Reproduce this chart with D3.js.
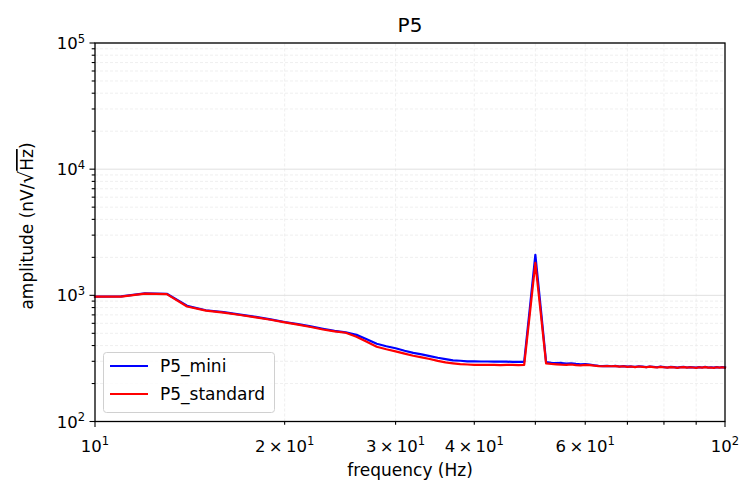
<!DOCTYPE html>
<html>
<head>
<meta charset="utf-8">
<script src="https://cdn.jsdelivr.net/npm/d3@7/dist/d3.min.js"></script>
<style>
  html, body { margin: 0; padding: 0; background: #fff; }
  svg { display: block; }
  text { font-family: "DejaVu Sans", sans-serif; fill: #000; }
</style>
</head>
<body>
<svg id="chart" width="742" height="484"></svg>
<script>
// Frequency bins (Hz), 1 Hz spacing
const freqs = d3.range(10, 101);

// Amplitude spectra (nV/sqrt(Hz)) for the two recordings
const p5Mini = [
  978, 982, 1037, 1028, 826, 762, 736, 703, 674, 645,
  615, 592, 567, 543, 522, 509, 486, 448, 413, 395,
  381, 364, 350, 340, 330, 320, 312, 305, 303, 300,
  300, 299, 299, 298, 298, 298, 297, 297, 297, 790,
  2095, 787, 296, 292, 290, 291, 288, 289, 286, 284,
  285, 282, 279, 276, 275, 276, 274, 276, 273, 275,
  272, 273, 271, 274, 272, 270, 273, 271, 269, 272,
  270, 268, 271, 270, 267, 270, 271, 268, 270, 269,
  267, 270, 268, 271, 268, 269, 267, 270, 268, 270,
  268
];
const p5Standard = [
  975, 978, 1030, 1022, 815, 756, 730, 698, 668, 640,
  610, 586, 561, 536, 518, 505, 469, 428, 391, 374,
  360, 345, 332, 322, 313, 302, 294, 289, 285, 283,
  281, 281, 281, 281, 280, 281, 281, 280, 281, 713,
  1811, 723, 289, 286, 284, 282, 281, 283, 280, 279,
  281, 280, 277, 275, 274, 275, 274, 275, 272, 274,
  271, 273, 270, 273, 271, 269, 272, 270, 268, 271,
  269, 267, 270, 269, 266, 269, 270, 267, 269, 268,
  266, 269, 267, 270, 267, 268, 266, 269, 267, 269,
  267
];

const seriesNames = ["P5_mini", "P5_standard"];
const seriesColors = ["#0000ff", "#ff0000"];

// Tick values and their labels
const xMajorTicks = [10, 100];
const xMinorTicks = [20, 30, 40, 50, 60, 70, 80, 90];
const xMinorLabelled = [20, 30, 40, 60];
const yMajorTicks = [1e2, 1e3, 1e4, 1e5];

const svg = d3.select("#chart");
const margin = { left: 95, right: 17, top: 43, bottom: 62.5 };
const W = 742, H = 484;

const x = d3.scaleLog().domain([10, 100]).range([margin.left, W - margin.right]);
const y = d3.scaleLog().domain([1e2, 1e5]).range([H - margin.bottom, margin.top]);

const x0 = x.range()[0], x1 = x.range()[1];
const y0 = y.range()[0], y1 = y.range()[1];

// minor y ticks: 2..9 × each decade
const yMinorTicks = [];
for (let e = 2; e < 5; e++) for (let m = 2; m <= 9; m++) yMinorTicks.push(m * Math.pow(10, e));

// --- grid ---
const grid = svg.append("g");
grid.selectAll("line.ymin").data(yMinorTicks).join("line")
  .attr("x1", x0).attr("x2", x1)
  .attr("y1", d => y(d)).attr("y2", d => y(d))
  .attr("stroke", "#ebebeb").attr("stroke-width", 0.8).attr("stroke-dasharray", "3,2");
grid.selectAll("line.xmin").data(xMinorTicks).join("line")
  .attr("x1", d => x(d)).attr("x2", d => x(d))
  .attr("y1", y0).attr("y2", y1)
  .attr("stroke", "#ebebeb").attr("stroke-width", 0.8).attr("stroke-dasharray", "3,2");
grid.selectAll("line.ymaj").data(yMajorTicks).join("line")
  .attr("x1", x0).attr("x2", x1)
  .attr("y1", d => y(d)).attr("y2", d => y(d))
  .attr("stroke", "#e0e0e0").attr("stroke-width", 1);

// --- data lines ---
const line = d3.line().x((d, i) => x(freqs[i])).y(d => y(d));
[p5Mini, p5Standard].forEach((vals, k) => {
  svg.append("path")
    .datum(vals)
    .attr("d", line)
    .attr("fill", "none")
    .attr("stroke", seriesColors[k])
    .attr("stroke-width", 2.2)
    .attr("stroke-linejoin", "round")
    .attr("stroke-linecap", "square");
});

// --- frame ---
svg.append("rect")
  .attr("x", x0).attr("y", y1)
  .attr("width", x1 - x0).attr("height", y0 - y1)
  .attr("fill", "none").attr("stroke", "#000").attr("stroke-width", 1.3);

// --- ticks ---
const ticks = svg.append("g").attr("stroke", "#000").attr("stroke-width", 1.1);
ticks.selectAll("line.xM").data(xMajorTicks).join("line")
  .attr("x1", d => x(d)).attr("x2", d => x(d)).attr("y1", y0).attr("y2", y0 + 5.5);
ticks.selectAll("line.xm").data(xMinorTicks).join("line")
  .attr("x1", d => x(d)).attr("x2", d => x(d)).attr("y1", y0).attr("y2", y0 + 3.3);
ticks.selectAll("line.yM").data(yMajorTicks).join("line")
  .attr("x1", x0 - 5.5).attr("x2", x0).attr("y1", d => y(d)).attr("y2", d => y(d));
ticks.selectAll("line.ym").data(yMinorTicks).join("line")
  .attr("x1", x0 - 3.3).attr("x2", x0).attr("y1", d => y(d)).attr("y2", d => y(d));

const fs = 16.5;
// power-of-ten label: mantissa text, "10", superscript exponent
function powLabel(sel, mant, exp) {
  if (mant !== null) sel.append("tspan").text(mant + "\u2009\u00d7\u200910");
  else sel.append("tspan").text("10");
  sel.append("tspan").attr("dy", -6.5).attr("font-size", fs * 0.7).text(exp);
}

// x tick labels
xMajorTicks.forEach(v => {
  const t = svg.append("text").attr("x", x(v)).attr("y", y0 + 30)
    .attr("text-anchor", "middle").attr("font-size", fs);
  powLabel(t, null, Math.round(Math.log10(v)));
});
xMinorLabelled.forEach(v => {
  const e = Math.floor(Math.log10(v));
  const t = svg.append("text").attr("x", x(v)).attr("y", y0 + 30)
    .attr("text-anchor", "middle").attr("font-size", fs);
  powLabel(t, Math.round(v / Math.pow(10, e)), e);
});

// y tick labels
yMajorTicks.forEach(v => {
  const t = svg.append("text").attr("x", x0 - 10).attr("y", y(v) + 6)
    .attr("text-anchor", "end").attr("font-size", fs);
  powLabel(t, null, Math.round(Math.log10(v)));
});

// --- title & axis labels ---
svg.append("text").attr("x", (x0 + x1) / 2).attr("y", 32)
  .attr("text-anchor", "middle").attr("font-size", 20).text("P5");

svg.append("text").attr("x", (x0 + x1) / 2).attr("y", 476)
  .attr("text-anchor", "middle").attr("font-size", 17).text("frequency (Hz)");

const yl = svg.append("text")
  .attr("transform", "translate(33,226) rotate(-90)")
  .attr("text-anchor", "middle").attr("font-size", 17);
yl.append("tspan").text("amplitude (nV/");
yl.append("tspan").attr("font-size", 20).text("\u221a");
yl.append("tspan").style("text-decoration", "overline").text("Hz");
yl.append("tspan").text(")");

// --- legend ---
const lg = svg.append("g");
lg.append("rect")
  .attr("x", 103.5).attr("y", 352.5).attr("width", 171).attr("height", 60)
  .attr("rx", 3).attr("fill", "#fff").attr("fill-opacity", 0.8)
  .attr("stroke", "#d0d0d0").attr("stroke-width", 1);
seriesNames.forEach((name, i) => {
  const cy = 366 + i * 28;
  lg.append("line").attr("x1", 110).attr("x2", 148).attr("y1", cy).attr("y2", cy)
    .attr("stroke", seriesColors[i]).attr("stroke-width", 2.2);
  lg.append("text").attr("x", 160).attr("y", cy + 6).attr("font-size", 17).text(name);
});
</script>
</body>
</html>
